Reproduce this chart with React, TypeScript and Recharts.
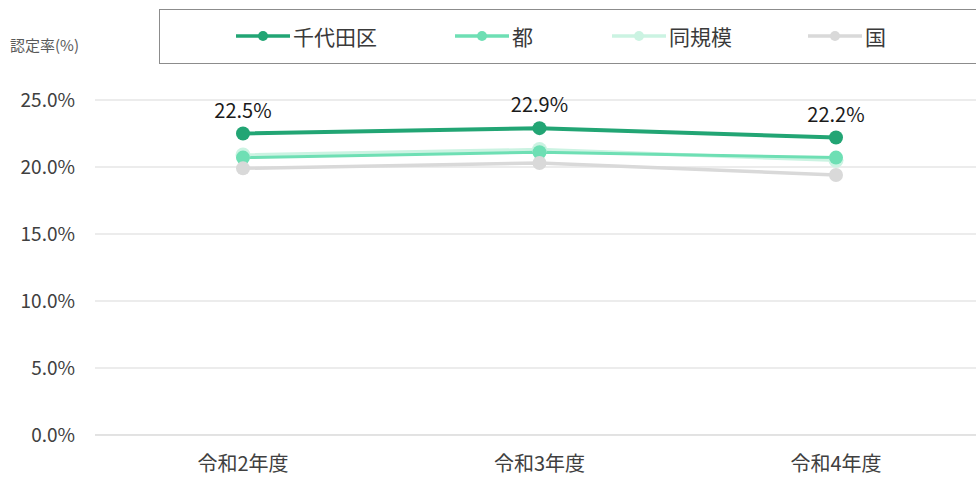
import React from 'react';
import { LineChart, Line, XAxis, YAxis, CartesianGrid, LabelList } from 'recharts';

const categories = ['令和2年度', '令和3年度', '令和4年度'];
const chiyoda = [22.5, 22.9, 22.2];
const tokyo = [20.7, 21.1, 20.7];
const sameScale = [20.9, 21.3, 20.5];
const national = [19.9, 20.3, 19.4];
const yTicks = [0, 5, 10, 15, 20, 25];

const SERIES = [
  { key: 'chiyoda', name: '千代田区', color: '#22A574', width: 4, r: 7 },
  { key: 'tokyo', name: '都', color: '#6EDFB4', width: 3, r: 7 },
  { key: 'same', name: '同規模', color: '#CBF3E2', width: 3.5, r: 7.5 },
  { key: 'national', name: '国', color: '#D9D9D9', width: 3.5, r: 7 },
];

const FONT = '"Noto Sans CJK JP", "Noto Sans", sans-serif';

const data = categories.map((c, i) => ({
  name: c,
  chiyoda: chiyoda[i],
  tokyo: tokyo[i],
  same: sameScale[i],
  national: national[i],
}));

// legend drawn by hand so the order and spacing match the source
function LegendBox() {
  const pos = [236, 455, 612, 808];
  return (
    <div
      style={{
        position: 'absolute',
        top: 9,
        left: 159,
        width: 830,
        height: 55,
        border: '1.5px solid #8c8c8c',
        boxSizing: 'border-box',
        fontFamily: FONT,
      }}
    >
      {SERIES.map((s, i) => (
        <div
          key={s.key}
          style={{ position: 'absolute', left: pos[i] - 160, top: 0, height: 52, display: 'flex', alignItems: 'center' }}
        >
          <svg width={54} height={12}>
            <line x1={0} y1={6} x2={54} y2={6} stroke={s.color} strokeWidth={3.5} />
            <circle cx={27} cy={6} r={5} fill={s.color} />
          </svg>
          <span style={{ fontSize: 21, color: '#3a3a3a', marginLeft: 3, lineHeight: 1 }}>{s.name}</span>
        </div>
      ))}
    </div>
  );
}

export default function App() {
  const drawOrder = [SERIES[2], SERIES[1], SERIES[3], SERIES[0]];
  return (
    <div style={{ position: 'fixed', left: 0, top: 0, width: 976, height: 477, overflow: 'hidden', background: '#fff' }}>
      <div style={{ position: 'absolute', left: 10, top: 34, fontSize: 15, color: '#595959', fontFamily: FONT }}>
        認定率(%)
      </div>
      <LegendBox />
      <LineChart
        width={984}
        height={477}
        data={data}
        margin={{ top: 100, right: 0, left: 0, bottom: 0 }}
        style={{ fontFamily: FONT }}
      >
        <CartesianGrid vertical={false} stroke="#d9d9d9" strokeWidth={1.2} />
        <XAxis
          dataKey="name"
          height={42}
          axisLine={{ stroke: '#d9d9d9' }}
          tickLine={false}
          tickMargin={16}
          padding={{ left: 148, right: 148 }}
          tick={{ fontSize: 20, fill: '#404040' }}
        />
        <YAxis
          type="number"
          domain={[0, 25]}
          ticks={yTicks}
          width={95}
          axisLine={false}
          tickLine={false}
          tickMargin={14}
          tickFormatter={(v: number) => `${v.toFixed(1)}%`}
          tick={{ fontSize: 19, fill: '#404040' }}
        />
        {drawOrder.map((s) => (
          <Line
            key={s.key}
            dataKey={s.key}
            name={s.name}
            stroke={s.color}
            strokeWidth={s.width}
            dot={{ r: s.r, fill: s.color, stroke: s.color, strokeWidth: 0 }}
            activeDot={false}
            isAnimationActive={false}
          >
            {s.key === 'chiyoda' && (
              <LabelList
                dataKey="chiyoda"
                position="top"
                offset={16}
                formatter={(v: number) => `${v.toFixed(1)}%`}
                style={{ fontSize: 20, fill: '#1a1a1a' }}
              />
            )}
          </Line>
        ))}
      </LineChart>
    </div>
  );
}
